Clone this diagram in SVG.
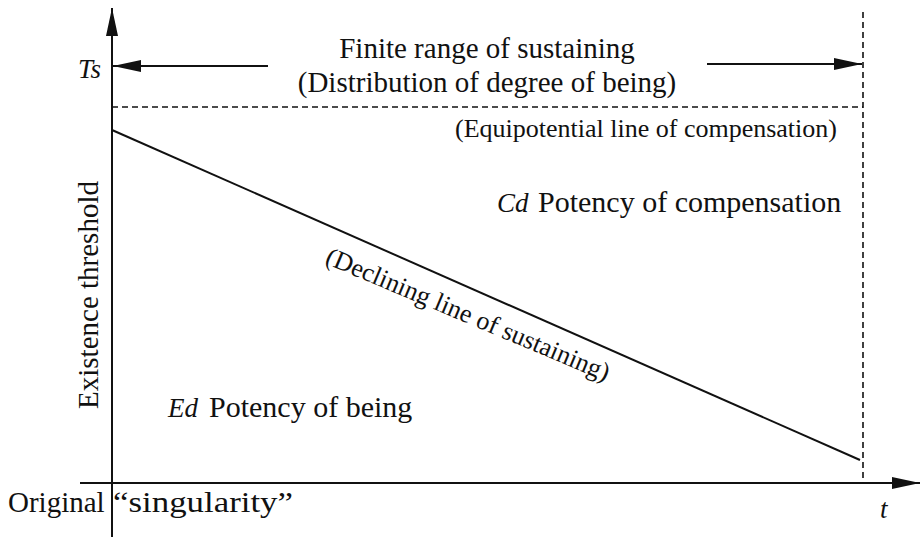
<svg xmlns="http://www.w3.org/2000/svg" width="921" height="537" viewBox="0 0 921 537">
<style>
text{font-family:'Liberation Serif','Times New Roman','DejaVu Serif',serif;fill:#111}
.it{font-style:italic}
.ax{stroke:#111;stroke-width:2;fill:none}
.ds{stroke:#111;stroke-width:1.6;fill:none;stroke-dasharray:6,4}
</style>
<defs>
<marker id="ah" viewBox="0 0 28 12" refX="28" refY="6" markerWidth="28" markerHeight="12" markerUnits="userSpaceOnUse" orient="auto">
<path d="M0,0 L28,6 L0,12 Z" fill="#111"/>
</marker>
</defs>
<rect width="921" height="537" fill="#fff"/>
<g id="connectors">
<line class="ax" x1="112" y1="537" x2="112" y2="8" marker-end="url(#ah)"/>
<line class="ax" x1="80" y1="483" x2="920" y2="483" marker-end="url(#ah)"/>
<line class="ds" x1="863" y1="12" x2="863" y2="483"/>
<line class="ds" x1="112" y1="107" x2="863" y2="107"/>
<line class="ax" x1="268" y1="66" x2="113" y2="66" marker-end="url(#ah)"/>
<line class="ax" x1="707" y1="64" x2="862" y2="64" marker-end="url(#ah)"/>
<line class="ax" x1="112" y1="130" x2="860" y2="460"/>
</g>
<g font-family="Liberation Serif, serif">
<g id="title">
<text x="487" y="58" font-size="29" text-anchor="middle">Finite range of sustaining</text>
<text x="487" y="92" font-size="29" text-anchor="middle">(Distribution of degree of being)</text>
</g>
<g id="ts"><text class="it" x="78" y="78" font-size="27">Ts</text></g>
<g id="equi"><text x="455" y="137" font-size="26">(Equipotential line of compensation)</text></g>
<g id="cd"><text y="212" font-size="30"><tspan class="it" x="497" font-size="27">Cd</tspan><tspan x="538">Potency of compensation</tspan></text></g>
<g id="decl"><text x="0" y="0" font-size="26" transform="translate(324,263) rotate(22.8)">(Declining line of sustaining)</text></g>
<g id="ed"><text y="417" font-size="30"><tspan class="it" x="168" font-size="27">Ed</tspan><tspan x="209">Potency of being</tspan></text></g>
<g id="ylabel"><text font-size="29" text-anchor="middle" transform="translate(98,295) rotate(-90)">Existence threshold</text></g>
<g id="origin"><text y="512" font-size="29"><tspan x="8">Original</tspan><tspan x="113" textLength="180" lengthAdjust="spacingAndGlyphs">“singularity”</tspan></text></g>
<g id="tlabel"><text class="it" x="880" y="518" font-size="27">t</text></g>
</g>
</svg>
